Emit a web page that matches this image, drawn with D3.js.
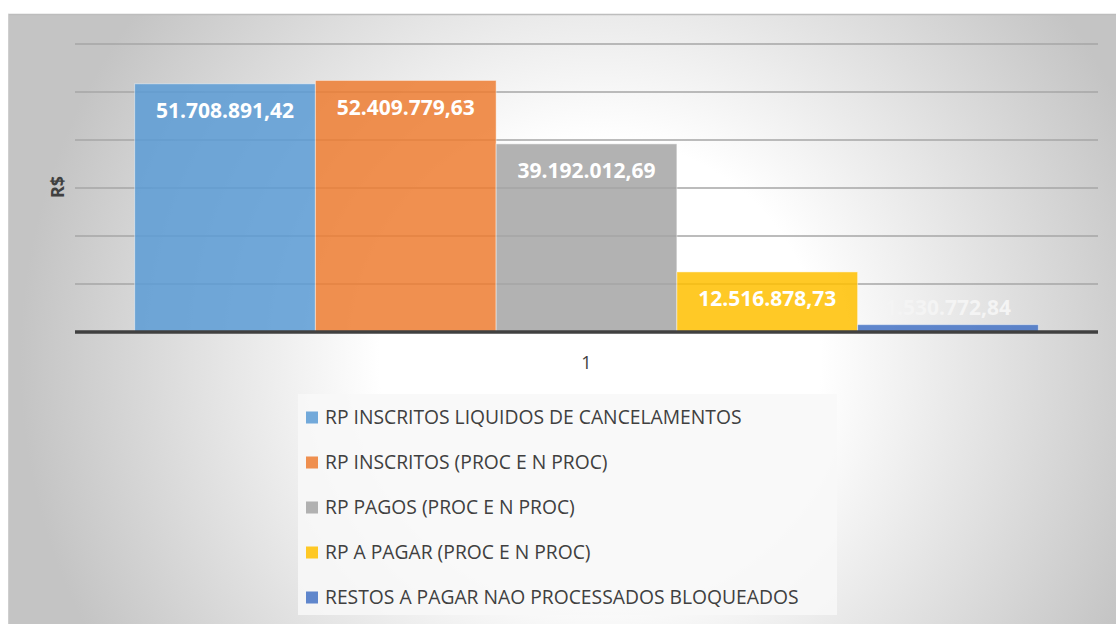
<!DOCTYPE html>
<html>
<head>
<meta charset="utf-8">
<script src="https://cdn.jsdelivr.net/npm/d3@7.9.0/dist/d3.min.js"></script>
<style>
  body { margin: 0; background: #fff; }
  svg { display: block; font-family: "Open Sans", sans-serif; }
</style>
</head>
<body>
<svg id="chart" width="1116" height="624"></svg>
<script>
// Chart data
const categories = ["1"];
const seriesNames = [
  "RP INSCRITOS LIQUIDOS DE CANCELAMENTOS",
  "RP INSCRITOS (PROC E N PROC)",
  "RP PAGOS (PROC E N PROC)",
  "RP A PAGAR (PROC E N PROC)",
  "RESTOS A PAGAR NAO PROCESSADOS BLOQUEADOS"
];
const seriesValues = [51708891.42, 52409779.63, 39192012.69, 12516878.73, 1530772.84];
const seriesColors = ["#5B9BD5", "#ED7D31", "#A5A5A5", "#FFC000", "#4472C4"];
const yTicks = [0, 10000000, 20000000, 30000000, 40000000, 50000000, 60000000];

const svg = d3.select("#chart");
const width = +svg.attr("width");
const height = +svg.attr("height");

// pt-BR number format
const br = d3.formatLocale({ decimal: ",", thousands: ".", grouping: [3], currency: ["R$", ""] });
const fmt = br.format(",.2f");

// Background (chart area with radial gradient)
const defs = svg.append("defs");
const bg = defs.append("radialGradient")
  .attr("id", "bg-grad")
  .attr("gradientUnits", "userSpaceOnUse")
  .attr("cx", 600).attr("cy", 360).attr("r", 580);
bg.append("stop").attr("offset", 0).attr("stop-color", "#ffffff");
bg.append("stop").attr("offset", 0.38).attr("stop-color", "#ffffff");
bg.append("stop").attr("offset", 1).attr("stop-color", "#c4c4c4");

svg.append("rect")
  .attr("x", 8).attr("y", 14)
  .attr("width", width).attr("height", height)
  .attr("fill", "url(#bg-grad)");
svg.append("line") // top border of chart area
  .attr("x1", 8).attr("x2", width).attr("y1", 14.5).attr("y2", 14.5)
  .attr("stroke", "#bdbdbd").attr("stroke-width", 1.5);
svg.append("line") // left border of chart area
  .attr("x1", 8.5).attr("x2", 8.5).attr("y1", 14).attr("y2", height)
  .attr("stroke", "#cfcfcf").attr("stroke-width", 1);

// Scales
const plot = { left: 75, right: 1098, top: 44, bottom: 332 };

const y = d3.scaleLinear()
  .domain([0, 60000000])
  .range([plot.bottom, plot.top]);

const x0 = d3.scaleBand()
  .domain(categories)
  .range([plot.left, plot.right])
  .paddingInner(0)
  .paddingOuter(0.066);

const x1 = d3.scaleBand()
  .domain(seriesNames)
  .range([0, x0.bandwidth()])
  .padding(0);

const color = d3.scaleOrdinal().domain(seriesNames).range(seriesColors);

// Gridlines
svg.append("g")
  .selectAll("line")
  .data(yTicks.filter(d => d > 0))
  .join("line")
  .attr("x1", plot.left).attr("x2", plot.right)
  .attr("y1", d => y(d)).attr("y2", d => y(d))
  .attr("stroke", "#a6a6a6")
  .attr("stroke-width", 1.3);

// Bars
const rows = seriesNames.map((name, i) => ({ category: categories[0], name, value: seriesValues[i] }));

const barGroup = svg.append("g");
barGroup.selectAll("rect")
  .data(rows)
  .join("rect")
  .attr("x", d => x0(d.category) + x1(d.name))
  .attr("y", d => y(d.value))
  .attr("width", x1.bandwidth())
  .attr("height", d => y(0) - y(d.value))
  .attr("fill", d => color(d.name))
  .attr("fill-opacity", 0.85)
  .attr("stroke", "#ffffff")
  .attr("stroke-opacity", 0.45)
  .attr("stroke-width", 1);

// Baseline (category axis)
svg.append("line")
  .attr("x1", plot.left).attr("x2", plot.right)
  .attr("y1", y(0)).attr("y2", y(0))
  .attr("stroke", "#404040")
  .attr("stroke-width", 3.5);

// Data labels (inside end, above small bars)
barGroup.selectAll("text")
  .data(rows)
  .join("text")
  .attr("x", d => x0(d.category) + x1(d.name) + x1.bandwidth() / 2)
  .attr("y", d => (y(0) - y(d.value) < 40) ? y(d.value) - 17 : y(d.value) + 27)
  .attr("dy", "0.35em")
  .attr("text-anchor", "middle")
  .attr("font-size", 21)
  .attr("font-weight", "bold")
  .attr("fill", d => (y(0) - y(d.value) < 40) ? "#f4f4f4" : "#ffffff")
  .text(d => fmt(d.value));

// Category label
svg.append("text")
  .attr("x", x0(categories[0]) + x0.bandwidth() / 2)
  .attr("y", 363)
  .attr("dy", "0.35em")
  .attr("text-anchor", "middle")
  .attr("font-size", 18)
  .attr("fill", "#404040")
  .text(categories[0]);

// Y axis title
svg.append("text")
  .attr("transform", "translate(58,187) rotate(-90)")
  .attr("dy", "0.35em")
  .attr("text-anchor", "middle")
  .attr("font-size", 18)
  .attr("font-weight", "bold")
  .attr("fill", "#404040")
  .text("R$");

// Legend
const legendY = d3.scaleBand()
  .domain(seriesNames)
  .range([395, 620]);

const legend = svg.append("g");
legend.append("rect")
  .attr("x", 298).attr("y", 394)
  .attr("width", 539).attr("height", 221)
  .attr("fill", "#f8f8f8").attr("fill-opacity", 0.85);

const items = legend.selectAll("g.item")
  .data(seriesNames)
  .join("g")
  .attr("class", "item")
  .attr("transform", d => `translate(306,${legendY(d) + legendY.bandwidth() / 2})`);

items.append("rect")
  .attr("x", 0).attr("y", -6)
  .attr("width", 12).attr("height", 12)
  .attr("fill", d => color(d))
  .attr("fill-opacity", 0.85);

items.append("text")
  .attr("x", 19)
  .attr("dy", "0.35em")
  .attr("font-size", 19.3)
  .attr("fill", "#404040")
  .text(d => d);
</script>
</body>
</html>
